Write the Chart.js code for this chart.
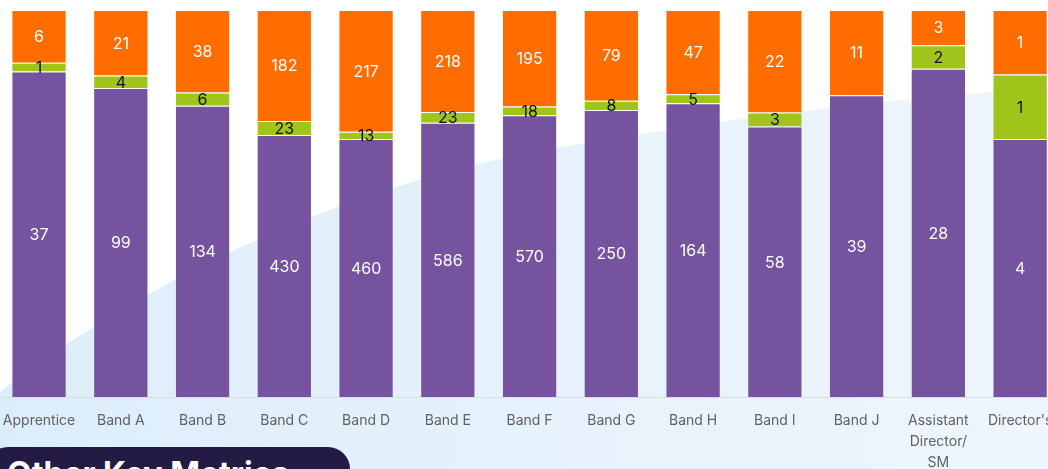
<!DOCTYPE html>
<html>
<head>
  <title>Headcount by Band</title>
  <script src="https://cdn.jsdelivr.net/npm/chart.js"></script>
  <style>
    html, body { margin: 0; padding: 0; width: 1048px; height: 469px; overflow: hidden; background: #fff; font-family: Inter, "Noto Sans", sans-serif; }
    #bg { position: absolute; left: 0; top: 0; }
    #wrap { position: absolute; left: -10px; top: 0; width: 1075px; height: 500px; }
    #pill { position: absolute; left: -14px; top: 447px; width: 364px; height: 60px; border-radius: 22px; background: #241b45; color: #fff; font-weight: 700; font-size: 32px; line-height: 32px; padding: 11px 0 0 21px; box-sizing: border-box; white-space: nowrap; }
  </style>
</head>
<body>
  <svg id="bg" width="1048" height="469">
    <defs>
      <linearGradient id="sky" x1="0" y1="0" x2="1" y2="0">
        <stop offset="0" stop-color="#dcedfa"/>
        <stop offset="1" stop-color="#eff6fd"/>
      </linearGradient>
    </defs>
    <path d="M0,392 C120,300 300,200 520,155 C700,122 880,98 1048,88 L1048,469 L0,469 Z" fill="url(#sky)"/>
  </svg>
  <div id="wrap"><canvas id="bandChart"></canvas></div>
  <div id="pill">Other Key Metrics</div>

  <script>
    const bands = ["Apprentice", "Band A", "Band B", "Band C", "Band D", "Band E", "Band F",
      "Band G", "Band H", "Band I", "Band J", ["Assistant", "Director/", "SM"], "Director's"];

    // headcounts per band, bottom to top
    const purpleCounts = [37, 99, 134, 430, 460, 586, 570, 250, 164, 58, 39, 28, 4];
    const greenCounts  = [1, 4, 6, 23, 13, 23, 18, 8, 5, 3, 0, 2, 1];
    const orangeCounts = [6, 21, 38, 182, 217, 218, 195, 79, 47, 22, 11, 3, 1];

    const totals = purpleCounts.map((v, i) => v + greenCounts[i] + orangeCounts[i]);
    const pct = arr => arr.map((v, i) => v / totals[i] * 100);

    const series = [
      { counts: purpleCounts, color: "#75539e", text: "#ffffff" },
      { counts: greenCounts,  color: "#a1c41b", text: "#111111" },
      { counts: orangeCounts, color: "#ff6d00", text: "#ffffff" }
    ];

    // draw the raw count in the middle of each segment
    const segmentLabels = {
      id: "segmentLabels",
      afterDatasetsDraw(chart) {
        const ctx = chart.ctx;
        ctx.save();
        ctx.font = "16px Inter, 'Noto Sans', sans-serif";
        ctx.textAlign = "center";
        ctx.textBaseline = "middle";
        chart.data.datasets.forEach((ds, di) => {
          const meta = chart.getDatasetMeta(di);
          meta.data.forEach((bar, i) => {
            const n = ds.counts[i];
            if (!n) return;
            const p = bar.getProps(["x", "y", "base"], true);
            ctx.fillStyle = ds.textColor;
            ctx.fillText(String(n), p.x, (p.y + p.base) / 2 + 1);
          });
        });
        ctx.restore();
      }
    };

    new Chart(document.getElementById("bandChart"), {
      type: "bar",
      data: {
        labels: bands,
        datasets: series.map(s => ({
          data: pct(s.counts),
          counts: s.counts,
          textColor: s.text,
          backgroundColor: s.color,
          borderColor: "rgba(255,255,255,0.22)",
          borderWidth: 1,
          barPercentage: 0.676,
          categoryPercentage: 1
        }))
      },
      options: {
        responsive: true,
        maintainAspectRatio: false,
        animation: false,
        layout: { padding: { top: 10, bottom: 14, left: 0, right: 0 } },
        plugins: { legend: { display: false }, tooltip: { enabled: false } },
        scales: {
          x: {
            stacked: true,
            grid: { display: false, drawTicks: false },
            border: { display: true, color: "#d9dee4", width: 1 },
            ticks: {
              padding: 13,
              maxRotation: 0,
              autoSkip: false,
              color: "#616161",
              font: { family: "Inter, 'Noto Sans', sans-serif", size: 14, lineHeight: 1.5 }
            }
          },
          y: {
            stacked: true,
            display: false,
            min: 0,
            max: 100
          }
        }
      },
      plugins: [segmentLabels]
    });
  </script>
</body>
</html>
